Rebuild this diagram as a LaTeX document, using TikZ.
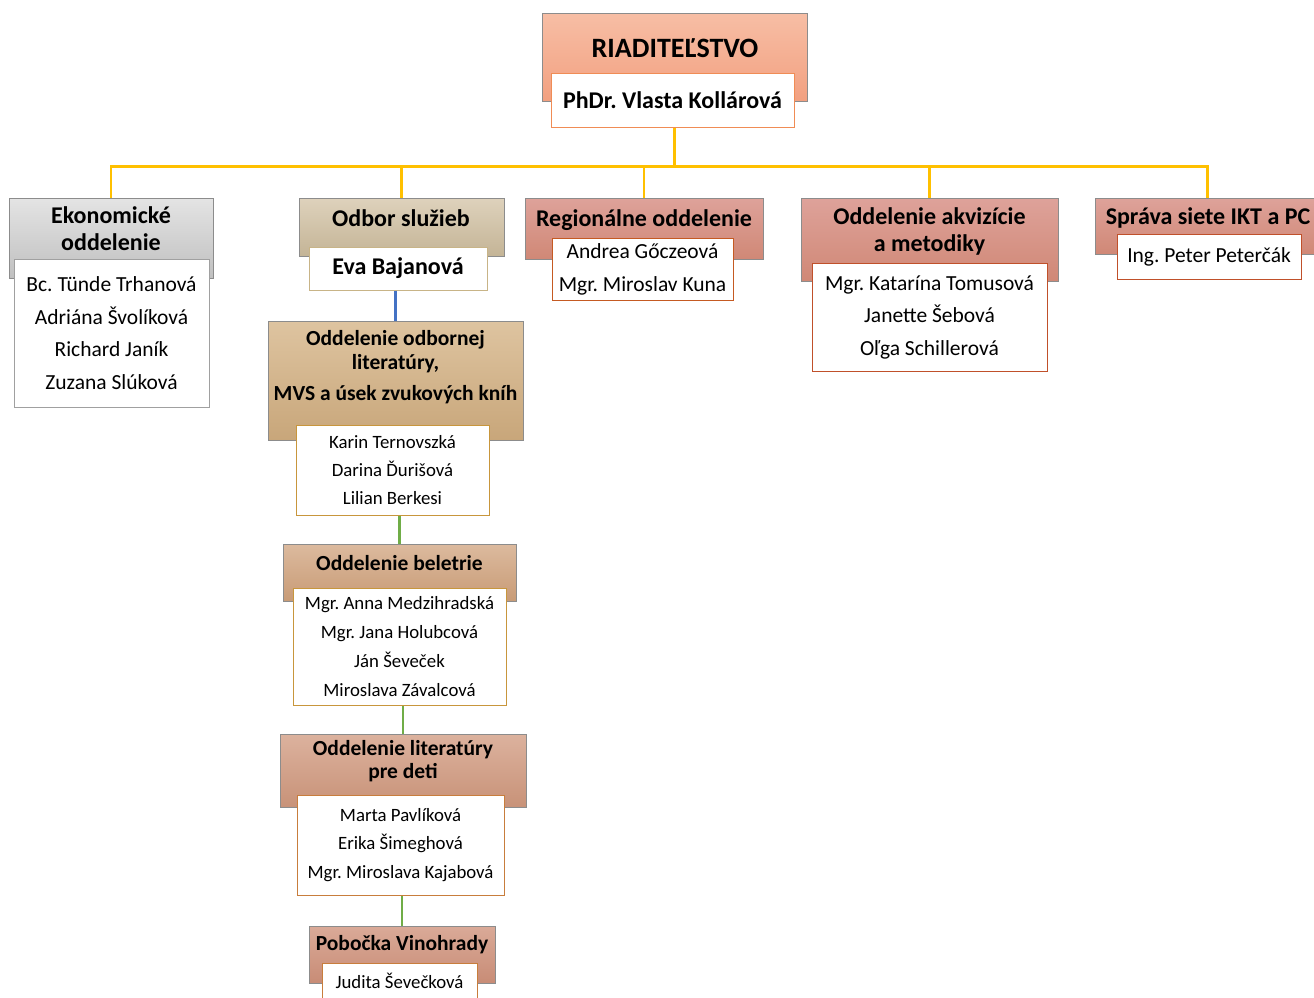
\documentclass[tikz,border=0pt]{standalone}
\usepackage{fontspec}
\setmainfont{Carlito}
\frenchspacing
\definecolor{yel}{HTML}{FFC000}
\definecolor{blu}{HTML}{4472C4}
\definecolor{grn}{HTML}{70AD47}
\definecolor{frame}{HTML}{8C8C8C}
\definecolor{riadTop}{RGB}{247,190,165}
\definecolor{riadBot}{RGB}{242,160,128}
\definecolor{riadBd}{RGB}{240,140,85}
\definecolor{grayTop}{RGB}{228,228,228}
\definecolor{grayBot}{RGB}{192,192,192}
\definecolor{grayBd}{RGB}{160,160,160}
\definecolor{tanTop}{RGB}{222,210,188}
\definecolor{tanBot}{RGB}{196,180,150}
\definecolor{tanBd}{RGB}{200,180,135}
\definecolor{litTop}{RGB}{222,196,160}
\definecolor{litBot}{RGB}{200,166,122}
\definecolor{goldBd}{RGB}{200,150,60}
\definecolor{belTop}{RGB}{220,186,158}
\definecolor{belBot}{RGB}{200,155,118}
\definecolor{detTop}{RGB}{220,178,158}
\definecolor{detBot}{RGB}{200,146,120}
\definecolor{brBd}{RGB}{200,125,60}
\definecolor{pobTop}{RGB}{218,170,152}
\definecolor{pobBot}{RGB}{200,140,118}
\definecolor{roseTop}{RGB}{222,162,154}
\definecolor{roseBot}{RGB}{208,136,118}
\definecolor{regBd}{RGB}{197,90,34}
\definecolor{redBd}{RGB}{192,80,42}
\tikzset{
  obox/.style={draw=frame, line width=1pt, inner sep=0pt},
  ibox/.style={draw=#1, fill=white, line width=1pt, inner sep=0pt, align=center},
  hd/.style={font=\bfseries\fontsize{#1}{27}\selectfont, align=center, inner sep=0pt},
  conn/.style={line width=2.5pt, draw=#1},
}
\newcommand{\nm}[2]{\fontsize{#1}{#2}\selectfont}
\begin{document}
\begin{tikzpicture}[x=1pt,y=-1pt]
\useasboundingbox (0,0) rectangle (1314,997);
% top
\node[obox, top color=riadTop, bottom color=riadBot, minimum width=265, minimum height=88] (riad) at (674.5,57) {};
\node[hd=28] (riadT) at (675,48) {RIADITEĽSTVO};
\node[ibox=riadBd, minimum width=243, minimum height=54, font=\bfseries\nm{24}{28}] (riadN) at (672.5,100) {PhDr. Vlasta Kollárová};
% Ekonomicke
\node[obox, top color=grayTop, bottom color=grayBot, minimum width=204, minimum height=80] (ekon) at (111,238) {};
\node[hd=24] (ekonT) at (111,228.5) {Ekonomické\\oddelenie};
\node[ibox=grayBd, minimum width=195, minimum height=148, font=\nm{21.5}{32.7}] (ekonN) at (111.5,333) {Bc. Tünde Trhanová\\Adriána Švolíková\\Richard Janík\\Zuzana Slúková};
% Odbor sluzieb
\node[obox, top color=tanTop, bottom color=tanBot, minimum width=205, minimum height=58] (odbor) at (401.5,227) {};
\node[hd=24] (odborT) at (401,218) {Odbor služieb};
\node[ibox=tanBd, minimum width=178, minimum height=43, font=\bfseries\nm{24}{28}] (odborN) at (398,268.5) {Eva Bajanová};
% Odd. odbornej literatury
\node[obox, top color=litTop, bottom color=litBot, minimum width=255, minimum height=119] (lit) at (395.5,380.5) {};
\node[font=\bfseries\nm{21.5}{24}, align=center, inner sep=0pt] (litT) at (395.5,367) {Oddelenie odbornej\\literatúry,\\[7pt]MVS a úsek zvukových kníh};
\node[ibox=goldBd, minimum width=193, minimum height=90, font=\nm{18.8}{28}] (litN) at (392.5,470) {Karin Ternovszká\\Darina Ďurišová\\Lilian Berkesi};
% Beletria
\node[obox, top color=belTop, bottom color=belBot, minimum width=233, minimum height=57] (bel) at (399.5,572.5) {};
\node[hd=21.5] (belT) at (399.5,563) {Oddelenie beletrie};
\node[ibox=goldBd, minimum width=213, minimum height=117, font=\nm{18.8}{28.7}] (belN) at (399.5,646.5) {Mgr. Anna Medzihradská\\Mgr. Jana Holubcová\\Ján Ševeček\\Miroslava Závalcová};
% Pre deti
\node[obox, top color=detTop, bottom color=detBot, minimum width=246, minimum height=73] (deti) at (403,770.5) {};
\node[font=\bfseries\nm{21.5}{23}, align=center, inner sep=0pt] (detiT) at (403,761.5) {Oddelenie literatúry\\pre deti};
\node[ibox=brBd, minimum width=207, minimum height=100, font=\nm{18.8}{28.5}] (detiN) at (400.5,845) {Marta Pavlíková\\Erika Šimeghová\\Mgr. Miroslava Kajabová};
% Pobocka
\node[obox, top color=pobTop, bottom color=pobBot, minimum width=186, minimum height=57] (pob) at (402,954.5) {};
\node[hd=21.5] (pobT) at (402,945) {Pobočka Vinohrady};
\node[ibox=brBd, minimum width=155, minimum height=36, font=\nm{18.8}{22}] (pobN) at (399.5,981) {Judita Ševečková};
% Regionalne
\node[obox, top color=roseTop, bottom color=roseBot, minimum width=238, minimum height=61] (reg) at (644,228.5) {};
\node[hd=24] (regT) at (644,220) {Regionálne oddelenie};
\node[ibox=regBd, minimum width=181, minimum height=62, font=\nm{21.5}{33}] (regN) at (642.5,269) {Andrea Gőczeová\\Mgr. Miroslav Kuna};
% Akvizicie
\node[obox, top color=roseTop, bottom color=roseBot, minimum width=257, minimum height=83] (akv) at (929.5,239.5) {};
\node[hd=24] (akvT) at (929.5,231.5) {Oddelenie akvizície\\a metodiky};
\node[ibox=redBd, minimum width=235, minimum height=108, font=\nm{21.5}{32.5}] (akvN) at (929.5,317) {Mgr. Katarína Tomusová\\Janette Šebová\\Oľga Schillerová};
% Sprava siete
\node[obox, top color=roseTop, bottom color=roseBot, minimum width=225, minimum height=56] (sprava) at (1207.5,226) {};
\node[hd=24] (spravaT) at (1208,218) {Správa siete IKT a PC};
\node[ibox=redBd, minimum width=184, minimum height=45, font=\nm{21.5}{24}] (spravaN) at (1209,256.5) {Ing. Peter Peterčák};
% connectors
\coordinate (bus) at (0,166.5);
\draw[conn=yel] (riad.center |- riadN.south) -- (riad.center |- bus) -| (ekon.north);
\draw[conn=yel] (riad.center |- bus) -| (sprava.north);
\draw[conn=yel] (odbor.north |- bus) -- (odbor.north);
\draw[conn=yel] (reg.north |- bus) -- (reg.north);
\draw[conn=yel] (akv.north |- bus) -- (akv.north);
\draw[conn=blu] (lit.north |- odborN.south) -- (lit.north);
\draw[conn=grn] (bel.north |- litN.south) -- (bel.north);
\draw[conn=grn] (deti.north |- belN.south) -- (deti.north);
\draw[conn=grn] (pob.north |- detiN.south) -- (pob.north);
\end{tikzpicture}
\end{document}
